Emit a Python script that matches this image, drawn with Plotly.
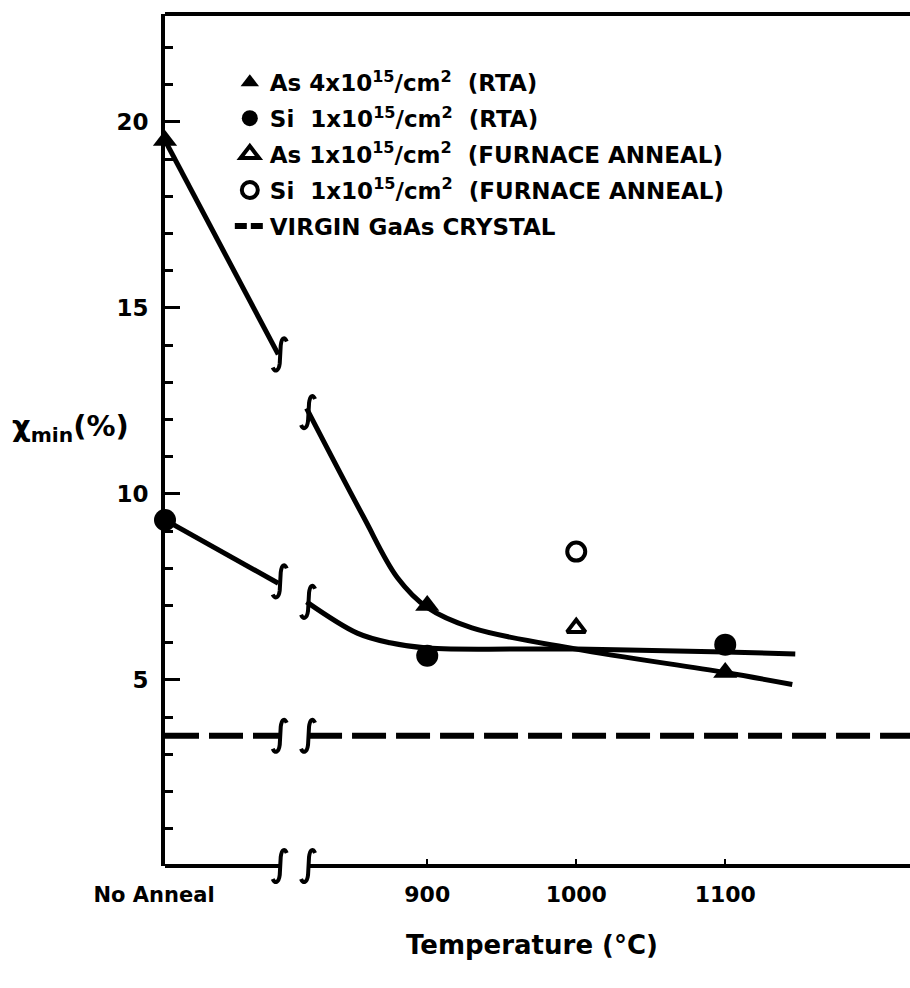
import plotly.graph_objects as go

# ---------------- data ----------------
NO_ANNEAL = 724          # surrogate x position of the "No Anneal" category
tick_vals = [NO_ANNEAL, 900, 1000, 1100]
tick_text = ["<span style='font-size:21px'>No Anneal&nbsp;&nbsp;&nbsp;</span>", "900", "1000", "1100"]

as_rta_x = [NO_ANNEAL, 900, 1100]
as_rta_y = [19.5, 7.0, 5.2]
si_rta_x = [NO_ANNEAL, 900, 1100]
si_rta_y = [9.3, 5.65, 5.95]
as_furn_x = [1000]
as_furn_y = [6.4]
si_furn_x = [1000]
si_furn_y = [8.45]
virgin_y = 3.5

# hand-drawn guide curves, split by the axis break
BREAK_L, BREAK_R = 801, 820
as_fit1_x = [NO_ANNEAL, 800]
as_fit1_y = [19.5, 13.75]
as_fit2_x = [819, 857, 880, 900, 930, 1000, 1100, 1145]
as_fit2_y = [12.3, 9.4, 7.75, 6.95, 6.4, 5.83, 5.2, 4.88]
si_fit1_x = [NO_ANNEAL, 800]
si_fit1_y = [9.3, 7.6]
si_fit2_x = [819, 853, 875, 900, 1000, 1100, 1147]
si_fit2_y = [7.1, 6.26, 6.0, 5.86, 5.83, 5.75, 5.70]

X_RANGE = [724, 1224]
Y_RANGE = [0, 22.9]

# ---------------- layout constants ----------------
W, H = 910, 988
ML, MR, MT, MB = 165, 0, 14, 122
PW, PH = W - ML - MR, H - MT - MB

FONT = "DejaVu Sans"
LW = 5

def px_(x):
    return (x - X_RANGE[0]) / (X_RANGE[1] - X_RANGE[0])

def py_(y):
    return (y - Y_RANGE[0]) / (Y_RANGE[1] - Y_RANGE[0])

fig = go.Figure()

line_style = dict(color="black", width=LW, shape="spline")
for xs, ys in [(as_fit1_x, as_fit1_y), (as_fit2_x, as_fit2_y),
               (si_fit1_x, si_fit1_y), (si_fit2_x, si_fit2_y)]:
    fig.add_trace(go.Scatter(x=xs, y=ys, mode="lines", line=line_style,
                             showlegend=False, hoverinfo="skip"))

# virgin crystal dashed line (split at break)
for xs in [[X_RANGE[0], BREAK_L], [BREAK_R, X_RANGE[1]]]:
    fig.add_trace(go.Scatter(x=xs, y=[virgin_y, virgin_y], mode="lines",
                             line=dict(color="black", width=6, dash="34px,10px"),
                             showlegend=False, hoverinfo="skip", cliponaxis=False))

fig.add_trace(go.Scatter(x=as_rta_x, y=as_rta_y, mode="markers", cliponaxis=False,
                         marker=dict(symbol="triangle-up", size=21, color="black"),
                         name="As&nbsp;4x10<sup>15</sup>/cm<sup>2</sup>&nbsp;&nbsp;(RTA)",
                         legendgroup="a"))
fig.add_trace(go.Scatter(x=si_rta_x, y=si_rta_y, mode="markers", cliponaxis=False,
                         marker=dict(symbol="circle", size=22, color="black"),
                         name="Si&nbsp;&nbsp;1x10<sup>15</sup>/cm<sup>2</sup>&nbsp;&nbsp;(RTA)",
                         legendgroup="b"))
fig.add_trace(go.Scatter(x=as_furn_x, y=as_furn_y, mode="markers", cliponaxis=False,
                         marker=dict(symbol="triangle-up-open", size=16, color="black",
                                     line=dict(width=4, color="black")),
                         name="As&nbsp;1x10<sup>15</sup>/cm<sup>2</sup>&nbsp;&nbsp;(FURNACE ANNEAL)",
                         legendgroup="c"))
fig.add_trace(go.Scatter(x=si_furn_x, y=si_furn_y, mode="markers", cliponaxis=False,
                         marker=dict(symbol="circle-open", size=18, color="black",
                                     line=dict(width=4, color="black")),
                         name="Si&nbsp;&nbsp;1x10<sup>15</sup>/cm<sup>2</sup>&nbsp;&nbsp;(FURNACE ANNEAL)",
                         legendgroup="d"))
fig.add_trace(go.Scatter(x=[None], y=[None], mode="lines",
                         line=dict(color="black", width=6, dash="12px,4px"),
                         name="VIRGIN GaAs CRYSTAL", legendgroup="e"))

# ---------------- break squiggles (paper coords, never clipped) ----------------
def squiggle(xc, yc):
    pts = [(-7, 13), (-5, 18), (-1, 17), (0, 9), (1, -9), (2, -17), (5, -18), (7, -13)]
    d = [(px_(xc) + dx / PW, py_(yc) - dy / PH) for dx, dy in pts]
    p = "M{:.5f},{:.5f} C{:.5f},{:.5f} {:.5f},{:.5f} {:.5f},{:.5f} L{:.5f},{:.5f} C{:.5f},{:.5f} {:.5f},{:.5f} {:.5f},{:.5f}".format(
        *[v for pt in d for v in pt])
    return dict(type="path", path=p, xref="paper", yref="paper",
                line=dict(color="black", width=4), layer="above")

shapes = []
as_break_l = as_fit1_y[-1]
as_break_r = as_fit2_y[0] - 0.1
si_break_l = si_fit1_y[-1] + 0.05
si_break_r = si_fit2_y[0]
for yl, yr in [(as_break_l, as_break_r), (si_break_l, si_break_r),
               (virgin_y, virgin_y), (Y_RANGE[0], Y_RANGE[0])]:
    shapes.append(squiggle(BREAK_L, yl))
    shapes.append(squiggle(BREAK_R, yr))

# bottom axis line with break gap, top frame line
shapes.append(dict(type="line", xref="paper", yref="paper", x0=0, x1=px_(BREAK_L),
                   y0=0, y1=0, line=dict(color="black", width=4)))
shapes.append(dict(type="line", xref="paper", yref="paper", x0=px_(BREAK_R), x1=1,
                   y0=0, y1=0, line=dict(color="black", width=4)))
shapes.append(dict(type="line", xref="paper", yref="paper", x0=0, x1=1,
                   y0=1, y1=1, line=dict(color="black", width=4)))

tick_font = dict(family=FONT, size=22, color="black", weight="bold")

fig.update_layout(
    width=W, height=H,
    margin=dict(l=ML, r=MR, t=MT, b=MB, pad=0),
    paper_bgcolor="white", plot_bgcolor="white",
    showlegend=True,
    legend=dict(x=0.087, y=0.945, xanchor="left", yanchor="top",
                font=dict(family=FONT, size=23, color="black", weight="bold"),
                bgcolor="rgba(0,0,0,0)", tracegroupgap=3, itemclick=False),
    shapes=shapes,
    xaxis=dict(range=X_RANGE, showgrid=False, zeroline=False, showline=False,
               tickmode="array", tickvals=tick_vals, ticktext=tick_text,
               ticks="inside", ticklen=7, tickwidth=2, tickcolor="black",
               tickfont=tick_font, ticklabelstandoff=13),
    yaxis=dict(range=Y_RANGE, showgrid=False, zeroline=False,
               showline=True, linewidth=4, linecolor="black",
               tickmode="array", tickvals=[5, 10, 15, 20],
               ticks="inside", ticklen=15, tickwidth=3, tickcolor="black",
               minor=dict(tickmode="linear", tick0=0, dtick=1, ticks="inside",
                          ticklen=8, tickwidth=3, tickcolor="black"),
               tickfont=dict(family=FONT, size=23, color="black", weight="bold"),
               ticklabelstandoff=8),
    annotations=[
        dict(text="Temperature (°C)", xref="paper", yref="paper",
             x=(532 - ML) / PW, y=-(945 - (H - MB)) / PH,
             xanchor="center", yanchor="middle", showarrow=False,
             font=dict(family=FONT, size=26, color="black", weight="bold")),
        dict(text="χ<sub>min</sub>(%)", xref="paper", yref="paper",
             x=-(ML - 10) / PW, y=1 - (428 - MT) / PH,
             xanchor="left", yanchor="middle", showarrow=False,
             font=dict(family=FONT, size=29, color="black", weight="bold")),
    ],
)

fig.write_html("out.html")
